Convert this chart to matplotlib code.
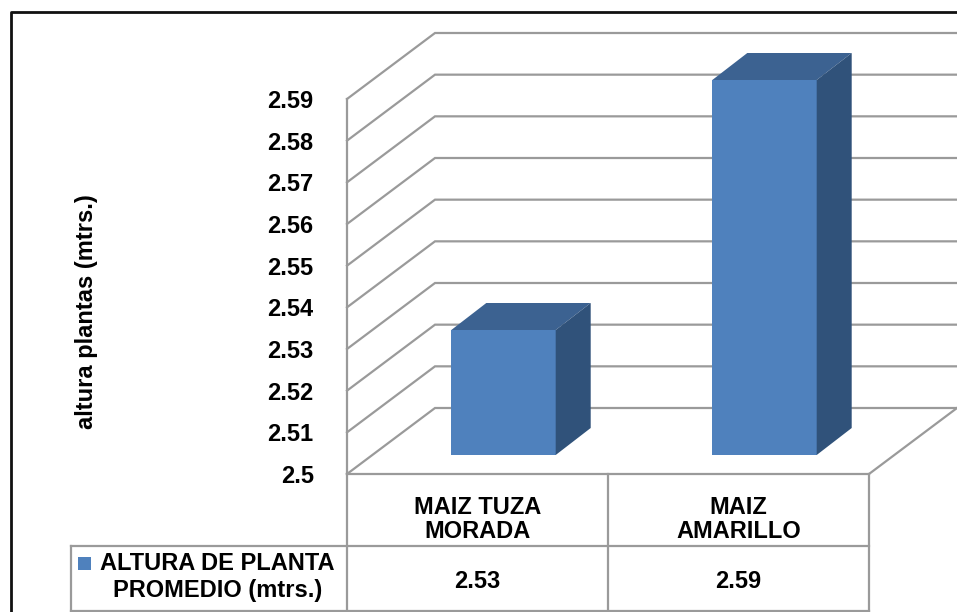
import matplotlib
matplotlib.use("Agg")
import matplotlib.pyplot as plt
from matplotlib.lines import Line2D
from matplotlib.patches import Polygon, Rectangle

plt.rcParams["font.family"] = ["Liberation Sans", "DejaVu Sans"]
plt.rcParams["font.weight"] = "bold"

categories = ["MAIZ TUZA\nMORADA", "MAIZ\nAMARILLO"]
heights = [2.53, 2.59]
value_labels = ["2.53", "2.59"]
tick_values = [2.5, 2.51, 2.52, 2.53, 2.54, 2.55, 2.56, 2.57, 2.58, 2.59]
tick_labels = ["2.5", "2.51", "2.52", "2.53", "2.54", "2.55", "2.56", "2.57", "2.58", "2.59"]
series_name = ["ALTURA DE PLANTA", "PROMEDIO (mtrs.)"]
axis_title = "altura plantas (mtrs.)"

W, H = 957, 612
GRID = "#9a9a9a"
FRONT, TOP, SIDE = "#4f81bd", "#3c6291", "#30527a"

fig = plt.figure(figsize=(W / 100, H / 100), dpi=100, facecolor="white")
# The axes rectangle is the front plane of the 3-D box.
ax = fig.add_axes([347 / W, 1 - 474 / H, 522 / W, 375 / H])
ax.set_xlim(-0.5, 1.5)
ax.set_ylim(2.5, 2.59)
ax.patch.set_visible(False)

ux = 2.0 / 522        # x units per pixel
uy = 0.09 / 375       # y units per pixel


def px_x(dx):
    return dx * ux


def px_y(dy):
    return dy * uy


# Receding walls and floor
wall_dx, wall_dy = px_x(88), px_y(66)
for v in tick_values:
    ax.plot([-0.5, -0.5 + wall_dx, 1.5 + wall_dx], [v, v + wall_dy, v + wall_dy],
            color=GRID, lw=1.6, clip_on=False, zorder=1, solid_joinstyle="miter")
ax.plot([1.5, 1.5 + wall_dx], [2.5, 2.5 + wall_dy], color=GRID, lw=1.6, clip_on=False, zorder=1)

# Bars: front face, top face and side face
shift_x, shift_y = px_x(26), px_y(19)
depth_x, depth_y = px_x(35), px_y(27)
bar_w = 0.4
for i, v in enumerate(heights):
    left = i + shift_x - bar_w / 2
    right = left + bar_w
    base = 2.5 + shift_y
    top = v + shift_y
    ax.bar(i + shift_x, v - 2.5, width=bar_w, bottom=base, color=FRONT, zorder=3, clip_on=False)
    ax.add_patch(Polygon([(left, top), (right, top), (right + depth_x, top + depth_y),
                          (left + depth_x, top + depth_y)], closed=True, fc=TOP, ec="none",
                         zorder=3, clip_on=False))
    ax.add_patch(Polygon([(right, base), (right, top), (right + depth_x, top + depth_y),
                          (right + depth_x, base + depth_y)], closed=True, fc=SIDE, ec="none",
                         zorder=3, clip_on=False))

# Value axis
for name in ("top", "right"):
    ax.spines[name].set_visible(False)
for name in ("left", "bottom"):
    ax.spines[name].set_color(GRID)
    ax.spines[name].set_linewidth(1.6)
ax.set_yticks(tick_values, tick_labels, fontsize=17, color="black", fontweight="bold")
ax.tick_params(axis="y", length=0, pad=24)
ax.set_xticks([0, 1], categories, fontsize=17, color="black", fontweight="bold", linespacing=1.05)
ax.tick_params(axis="x", length=0, pad=16)
ax.set_ylabel(axis_title, fontsize=17, fontweight="bold", color="black")
ax.yaxis.set_label_coords(98 / W, 1 - 312 / H, transform=fig.transFigure)


# Data table, placed in figure pixels below the front plane
def table_line(x0, y0, x1, y1):
    fig.add_artist(Line2D([x0 / W, x1 / W], [1 - y0 / H, 1 - y1 / H], color=GRID, lw=1.6))


for x in (347, 608, 869):
    table_line(x, 474, x, H)
table_line(71, 546, 869, 546)
table_line(71, 546, 71, H)
table_line(71, 611, 869, 611)

fig.add_artist(Rectangle((78 / W, 1 - 570 / H), 13 / W, 13 / H, fc=FRONT, ec="none",
                         transform=fig.transFigure))
fig.text(217.5 / W, 1 - 564 / H, series_name[0], fontsize=17, ha="center", va="center", color="black")
fig.text(217.5 / W, 1 - 591 / H, series_name[1], fontsize=17, ha="center", va="center", color="black")
for x, label in zip((477.5, 738.5), value_labels):
    fig.text(x / W, 1 - 581 / H, label, fontsize=17, ha="center", va="center", color="black")

# Outer chart border, running off the top-right of the canvas
fig.add_artist(Line2D([10.5 / W, 10.5 / W, 1], [0, 1 - 12 / H, 1 - 12 / H], color="#111111", lw=2))

fig.savefig("out.png", dpi=100)
